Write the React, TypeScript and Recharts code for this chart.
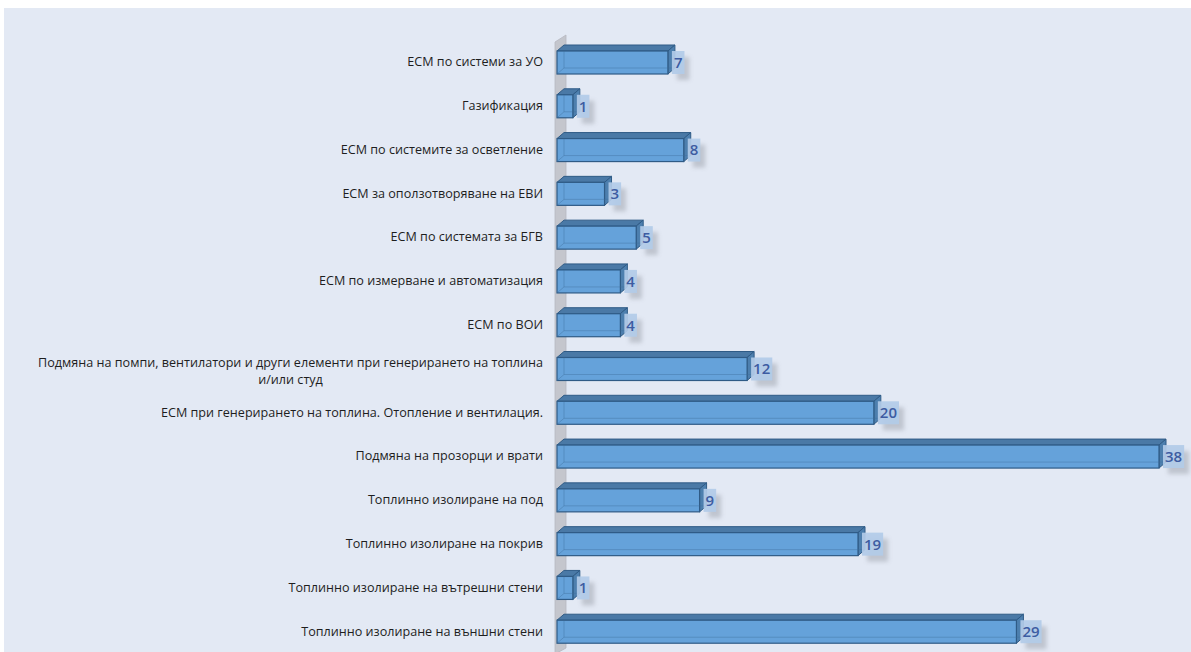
import React from "react";
import {
  BarChart,
  Bar,
  XAxis,
  YAxis,
  CartesianGrid,
  LabelList,
} from "recharts";

const categories = [
  "ЕСМ по системи за УО",
  "Газификация",
  "ЕСМ по системите за осветление",
  "ЕСМ за оползотворяване на ЕВИ",
  "ЕСМ по системата за БГВ",
  "ЕСМ по измерване и автоматизация",
  "ЕСМ по ВОИ",
  "Подмяна на помпи, вентилатори и други елементи при генерирането на топлина\nи/или студ",
  "ЕСМ при генерирането на топлина. Отопление и вентилация.",
  "Подмяна на прозорци и врати",
  "Топлинно изолиране на под",
  "Топлинно изолиране на покрив",
  "Топлинно изолиране на вътрешни стени",
  "Топлинно изолиране на външни стени",
];

const counts = [7, 1, 8, 3, 5, 4, 4, 12, 20, 38, 9, 19, 1, 29];

const data = categories.map((name, i) => ({ name, value: counts[i] }));

const FONT = "'Open Sans', 'Noto Sans', sans-serif";
const DX = 7;
const DY = 6;

let ctx: CanvasRenderingContext2D | null = null;
function measure(text: string, font: string) {
  if (!ctx) ctx = document.createElement("canvas").getContext("2d");
  if (!ctx) return text.length * 7;
  ctx.font = font;
  return ctx.measureText(text).width;
}

const CatTick = (props: any) => {
  const { x, y, payload } = props;
  const lines = String(payload.value).split("\n");
  const right = x - 6;
  if (lines.length === 1) {
    return (
      <text x={right} y={y - 1} dy="0.35em" textAnchor="end" fontSize={12.6} fontFamily={FONT} fill="#1e1e1e">
        {lines[0]}
      </text>
    );
  }
  const w = measure(lines[0], `12.6px ${FONT}`);
  const cx = right - w / 2;
  return (
    <g>
      {lines.map((l, i) => (
        <text
          key={i}
          x={cx}
          y={y - 6.5 + i * 17}
          dy="0.35em"
          textAnchor="middle"
          fontSize={12.6}
          fontFamily={FONT}
          fill="#1e1e1e"
        >
          {l}
        </text>
      ))}
    </g>
  );
};

const Bar3D = (props: any) => {
  const { x, y, width, height } = props;
  if (width == null || height == null) return null;
  const b = y + height;
  return (
    <g>
      <polygon
        points={`${x},${y} ${x + DX},${y - DY} ${x + width + DX},${y - DY} ${x + width},${y}`}
        fill="#4a79a6"
        stroke="#2f5b86"
        strokeWidth={1}
      />
      <polygon
        points={`${x + width},${y} ${x + width + DX},${y - DY} ${x + width + DX},${b - DY} ${x + width},${b}`}
        fill="#4d7fae"
        stroke="#2f5b86"
        strokeWidth={1}
      />
      <rect x={x} y={y} width={width} height={height} fill="#65a2da" stroke="#2f5b86" strokeWidth={1.2} />
      <line x1={x + DX} y1={b - DY} x2={x + width + DX} y2={b - DY} stroke="#3f6e9c" strokeOpacity={0.4} />
      <line x1={x + DX} y1={y} x2={x + DX} y2={b - DY} stroke="#3f6e9c" strokeOpacity={0.4} />
      <line x1={x} y1={b} x2={x + DX} y2={b - DY} stroke="#3f6e9c" strokeOpacity={0.4} />
    </g>
  );
};

const ValueLabel = (props: any) => {
  const { x, y, width, height, value } = props;
  const txt = String(value);
  const tw = measure(txt, `600 15px ${FONT}`);
  const bw = tw + 4;
  const bh = height;
  const bx = x + width + 4;
  const by = y;
  return (
    <g>
      <rect x={bx + 5} y={by + 6} width={bw} height={bh} fill="#8a8f99" opacity={0.4} filter="url(#lblShadow)" />
      <rect x={bx} y={by} width={bw} height={bh} fill="#b2cbe8" fillOpacity={0.92} />
      <text
        x={bx + bw / 2}
        y={by + bh / 2}
        dy="0.36em"
        textAnchor="middle"
        fontSize={15}
        fontWeight={600}
        fontFamily={FONT}
        fill="#3d5ca2"
      >
        {txt}
      </text>
    </g>
  );
};

const Wall = (props: any) => {
  const { x1, y1, y2, index } = props;
  if (x1 == null || index !== 0) return <g key={`wall-${index}`} />;
  const l = x1 - 2;
  const r = x1 + 9;
  return (
    <polygon
      key={`wall-${index}`}
      points={`${l},${y1 + 1} ${r},${y1 - DY} ${r},${y2 - DY} ${l},${y2}`}
      fill="#c4c6cd"
      stroke="#b6b8c0"
      strokeWidth={0.8}
    />
  );
};

export default function App() {
  return (
    <div style={{ position: "absolute", left: 4, top: 8, width: 1187, height: 646, background: "#e3e9f4" }}>
      <BarChart
        width={1187}
        height={646}
        data={data}
        layout="vertical"
        margin={{ top: 33, right: 32, bottom: 0, left: 0 }}
        barSize={23}
      >
        <defs>
          <filter id="lblShadow" x="-50%" y="-50%" width="200%" height="200%">
            <feGaussianBlur stdDeviation="2" />
          </filter>
        </defs>
        <CartesianGrid horizontal={false} vertical={(p: any) => <Wall {...p} />} />
        <XAxis
          type="number"
          domain={[0, 38]}
          ticks={[0]}
          height={0}
          tick={false}
          axisLine={false}
          tickLine={false}
        />
        <YAxis
          type="category"
          dataKey="name"
          width={553}
          interval={0}
          axisLine={false}
          tickLine={false}
          tick={<CatTick />}
        />
        <Bar dataKey="value" shape={<Bar3D />} isAnimationActive={false}>
          <LabelList dataKey="value" content={<ValueLabel />} />
        </Bar>
      </BarChart>
    </div>
  );
}
